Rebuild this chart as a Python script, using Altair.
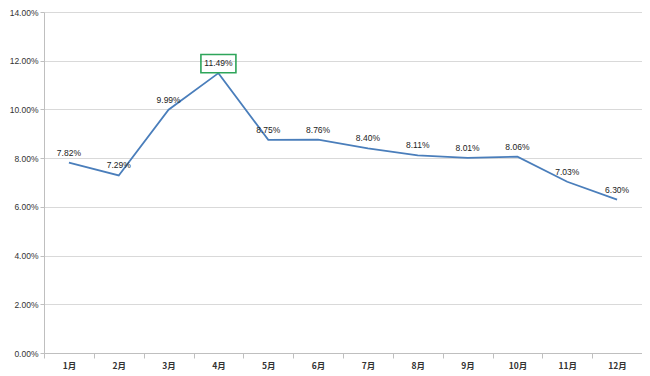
import altair as alt
import pandas as pd

months = ["1月", "2月", "3月", "4月", "5月", "6月", "7月", "8月", "9月", "10月", "11月", "12月"]
rates = [7.82, 7.29, 9.99, 11.49, 8.75, 8.76, 8.40, 8.11, 8.01, 8.06, 7.03, 6.30]
highlight = "4月"
y_ticks = [0, 0.02, 0.04, 0.06, 0.08, 0.10, 0.12, 0.14]

df = pd.DataFrame({"month": months, "rate": [r / 100 for r in rates]})
df["hl"] = df["month"] == highlight

FONT = "Liberation Sans, Noto Sans CJK JP, sans-serif"
CJK = "Noto Sans CJK JP, sans-serif"

x = alt.X("month:N", sort=months, title=None,
          scale=alt.Scale(paddingInner=0, paddingOuter=0),
          axis=alt.Axis(labelAngle=0, tickBand="extent", domainColor="#bfbfbf",
                        tickColor="#bfbfbf", tickSize=5, labelPadding=3,
                        labelFont=CJK, labelFontSize=8.5, labelColor="#333333",
                        labelFontWeight="bold", grid=False))
y = alt.Y("rate:Q", title=None,
          scale=alt.Scale(domain=[0, 0.14], nice=False),
          axis=alt.Axis(values=y_ticks, format=".2%", domainColor="#bfbfbf",
                        tickColor="#bfbfbf", tickSize=4, gridColor="#d9d9d9",
                        labelFont=FONT, labelFontSize=8.5, labelColor="#333333",
                        labelPadding=2))

base = alt.Chart(df)

line = base.mark_line(color="#4A7EBB", strokeWidth=1.8).encode(x=x, y=y)

labels = base.mark_text(baseline="bottom", dy=-5, font=FONT, fontSize=8.5,
                        color="#222222").encode(
    x=x, y=y, text=alt.Text("rate:Q", format=".2%"))

box = base.transform_filter(alt.datum.hl).mark_point(
    shape="M-1,-0.52L1,-0.52L1,0.52L-1,0.52Z", size=1225, filled=False,
    stroke="#2EA55A", strokeWidth=1.6, opacity=1, yOffset=-9.5).encode(x=x, y=y)

chart = alt.layer(line, box, labels).properties(
    width=598, height=341,
    padding={"left": 36, "top": 4, "right": 0, "bottom": 23},
    autosize=alt.AutoSizeParams(type="none"),
).configure_view(strokeWidth=0)

chart.save("out.html", embed_options={"renderer": "svg", "actions": False})
